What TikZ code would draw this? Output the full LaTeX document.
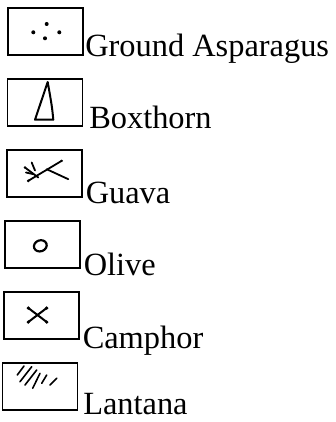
\documentclass[tikz,border=0pt]{standalone}
\usepackage{fontspec}
\setmainfont{Liberation Serif}
\usepackage{tikz}
\usetikzlibrary{positioning}
\tikzstyle{legendbox} = [rectangle, draw=black, line width=1.1pt, minimum width=75pt, minimum height=47pt, inner sep=0pt]
\tikzstyle{legendtext} = [inner sep=0pt, anchor=base west, font=\fontsize{32.4}{38}\selectfont]
\tikzstyle{glyph} = [black, line width=1.8pt, line cap=round, line join=round]

\begin{document}
\begin{tikzpicture}[node distance=71pt]
    \useasboundingbox (0,0) rectangle (336pt,-422pt);

    \node (boxGround) [legendbox] at (45.5pt,-31.5pt) {};
    \node (boxBox) [legendbox, below of=boxGround, xshift=-0.5pt] {};
    \node (boxGuava) [legendbox, below of=boxBox, xshift=-0.5pt] {};
    \node (boxOlive) [legendbox, below of=boxGuava, xshift=-2pt] {};
    \node (boxCamphor) [legendbox, below of=boxOlive, xshift=-1pt] {};
    \node (boxLantana) [legendbox, below of=boxCamphor, xshift=-1.5pt] {};

    \node (txtGround) [right=1.5pt of boxGround.south east, legendtext, yshift=-1pt] {Ground Asparagus};
    \node (txtBox) [right=6pt of boxBox.south east, legendtext, yshift=-2pt] {Boxthorn};
    \node (txtGuava) [right=3pt of boxGuava.south east, legendtext, yshift=-6pt] {Guava};
    \node (txtOlive) [right=3pt of boxOlive.south east, legendtext, yshift=-7pt] {Olive};
    \node (txtCamphor) [right=3pt of boxCamphor.south east, legendtext, yshift=-9pt] {Camphor};
    \node (txtLantana) [right=5pt of boxLantana.south east, legendtext, yshift=-3.5pt] {Lantana};

    % ground asparagus: dots
    \begin{scope}[shift={(boxGround.center)}, x=1pt, y=1pt]
        \foreach \px/\py in {1.2/7.5, -12.2/-0.8, 13.8/-0.8, -0.5/-6.8}
            \fill[black] (\px,\py) circle (2);
    \end{scope}

    % boxthorn: thin spike
    \begin{scope}[shift={(boxBox.center)}, x=1pt, y=1pt]
        \draw[glyph, line width=2pt] (2.7,20.5) -- (-10,-17.2) -- (8.3,-17.2) .. controls (7,-4) .. (2.7,20.5);
    \end{scope}

    % guava
    \begin{scope}[shift={(boxGuava.center)}, x=1pt, y=1pt]
        \draw[glyph] (-16.2,-7.3) -- (17.2,12.7);
        \draw[glyph] (2.2,4.3) -- (23.8,-5.7);
        \draw[glyph] (-19.5,6) -- (-6.2,-4);
        \draw[glyph] (-12.8,11) -- (-9.5,3);
        \draw[glyph] (-18.5,1) -- (-11,-0.7);
        \fill[black] (-16.2,-7.3) circle (1.5) (17.2,12.7) circle (1.3) (-19.5,6) circle (1.3);
    \end{scope}

    % olive
    \begin{scope}[shift={(boxOlive.center)}, x=1pt, y=1pt]
        \draw[glyph, line width=2.2pt, rotate=20] (-2.5,-0.5) ellipse (6.5 and 5.5);
    \end{scope}

    % camphor
    \begin{scope}[shift={(boxCamphor.center)}, x=1pt, y=1pt]
        \draw[glyph, line width=2pt] (-13.2,7.5) -- (5.2,-6.5);
        \draw[glyph, line width=2pt] (5.2,7.5) -- (-13.2,-6.5);
        \foreach \px/\py in {-13.2/7.5, 5.2/-6.5, 5.2/7.5, -13.2/-6.5}
            \fill[black] (\px,\py) circle (1.8);
    \end{scope}

    % lantana: hatching
    \begin{scope}[shift={(boxLantana.center)}, x=1pt, y=1pt]
        \foreach \ax/\ay/\bx/\by in {-22.7/11.5/-16/20.5, -20/4.8/-8.3/19.8, -15/1.5/-3.3/16.5, -7.3/-1.8/0/13.2, 1.7/3.2/6.7/11.5, 10/1.5/16.7/8.2}
            \draw[glyph, line width=1.6pt] (\ax,\ay) -- (\bx,\by);
    \end{scope}
\end{tikzpicture}
\end{document}
